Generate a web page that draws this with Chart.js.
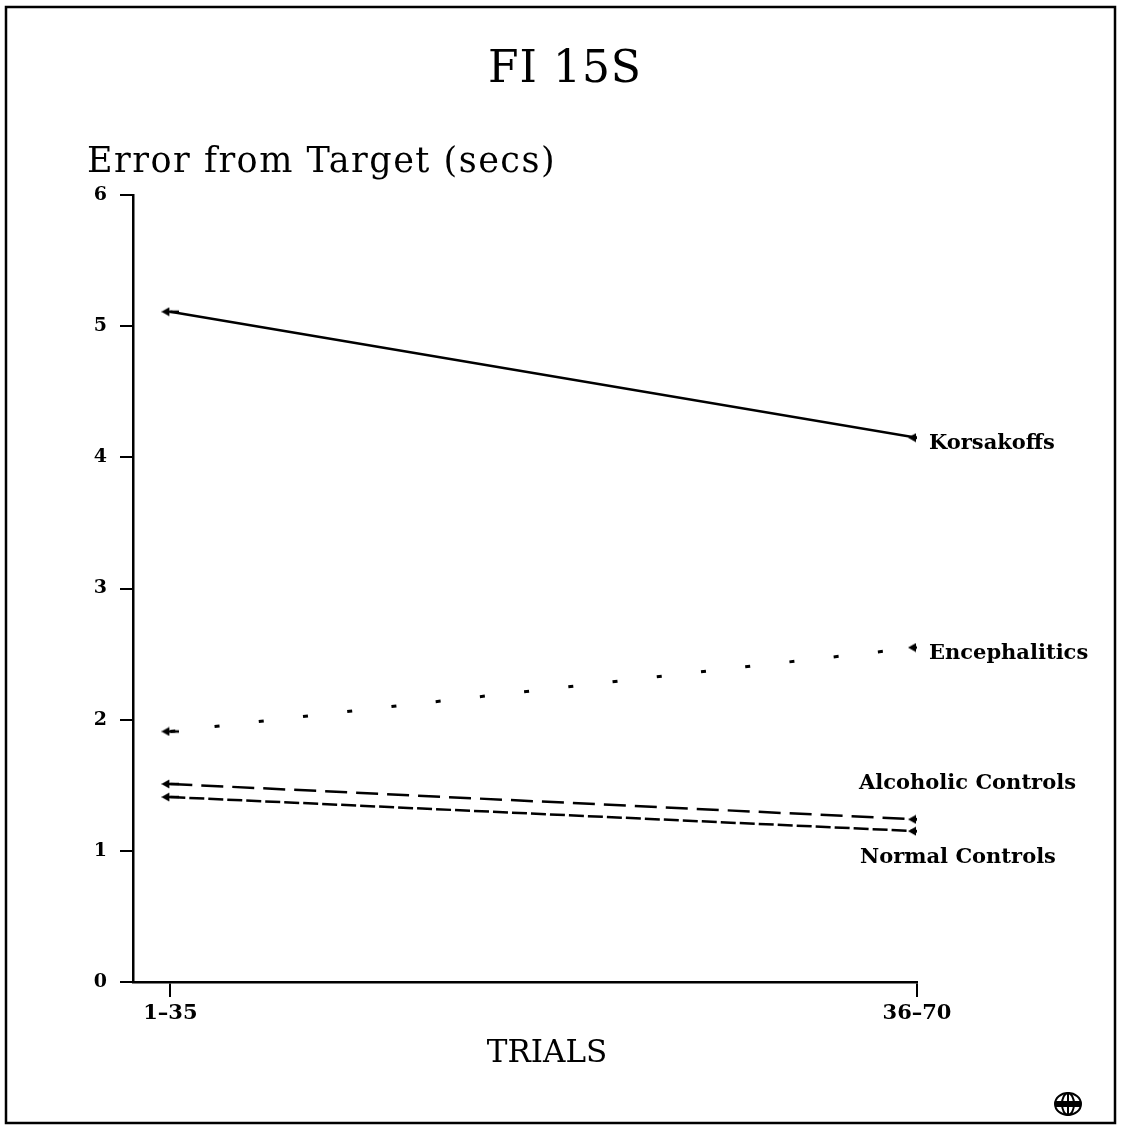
<!DOCTYPE html>
<html lang="en">
<head>
    <meta charset="utf-8">
    <title>FI 15S</title>
    <script type="text/javascript" src="https://cdn.jsdelivr.net/npm/chart.js@4.4.1/dist/chart.umd.min.js"></script>
    <style>
        html, body { margin: 0; padding: 0; background: #fff; }
        canvas { display: block; }
    </style>
</head>

<body>
<canvas id="chart-fi15" width="1123" height="1129"></canvas>

<script type="text/javascript">
    // data
    var trials = ["1\u201335", "36\u201370"];
    var yTicks = [0, 1, 2, 3, 4, 5, 6];
    var korsakoffs = [5.11, 4.15];
    var encephalitics = [1.91, 2.55];
    var alcoholicControls = [1.51, 1.24];
    var normalControls = [1.41, 1.15];

    var serif = "'DejaVu Serif', 'Liberation Serif', serif";

    // little left arrow used as point marker
    function arrowMarker() {
        var c = document.createElement("canvas");
        c.width = 18;
        c.height = 10;
        var g = c.getContext("2d");
        g.fillStyle = "#000";
        g.strokeStyle = "#000";
        g.lineWidth = 2.5;
        g.beginPath();
        g.moveTo(4, 5);
        g.lineTo(18, 5);
        g.stroke();
        g.beginPath();
        g.moveTo(0, 5);
        g.lineTo(8, 0.5);
        g.lineTo(8, 9.5);
        g.closePath();
        g.fill();
        return c;
    }
    var arrow = arrowMarker();

    function toPoints(values) {
        var pts = [];
        for (var i = 0; i < values.length; i++) {
            pts.push({x: i, y: values[i]});
        }
        return pts;
    }

    function series(name, values, width, dash, labelDx, labelDy) {
        return {
            label: name,
            data: toPoints(values),
            borderColor: "#000",
            borderWidth: width,
            borderDash: dash,
            fill: false,
            pointStyle: arrow,
            pointRadius: 9,
            labelDx: labelDx,
            labelDy: labelDy
        };
    }

    // titles, end labels, frame
    var decorations = {
        id: "decorations",
        afterDraw: function (chart) {
            var ctx = chart.ctx;
            var xs = chart.scales.x;
            var ys = chart.scales.y;
            ctx.save();
            ctx.fillStyle = "#000";

            ctx.textBaseline = "alphabetic";
            ctx.textAlign = "center";
            ctx.font = "44px " + serif;
            ctx.letterSpacing = "1px";
            ctx.fillText("FI 15S", 565, 82);

            ctx.textAlign = "left";
            ctx.font = "35px " + serif;
            ctx.letterSpacing = "1.5px";
            ctx.fillText("Error from Target (secs)", 87, 172);

            ctx.textAlign = "center";
            ctx.font = "31px " + serif;
            ctx.letterSpacing = "0px";
            ctx.fillText("TRIALS", 547, 1062);

            ctx.textAlign = "left";
            ctx.textBaseline = "middle";
            ctx.font = "bold 21px " + serif;
            chart.data.datasets.forEach(function (ds) {
                var last = ds.data[ds.data.length - 1];
                ctx.fillText(ds.label,
                    xs.getPixelForValue(last.x) + ds.labelDx,
                    ys.getPixelForValue(last.y) + ds.labelDy);
            });

            // page frame
            ctx.strokeStyle = "#000";
            ctx.lineWidth = 2.5;
            ctx.strokeRect(6, 7, 1109, 1116);

            // small globe logo
            ctx.lineWidth = 2;
            ctx.beginPath();
            ctx.ellipse(1068, 1104, 13, 11, 0, 0, Math.PI * 2);
            ctx.stroke();
            ctx.beginPath();
            ctx.ellipse(1068, 1104, 6, 11, 0, 0, Math.PI * 2);
            ctx.stroke();
            ctx.fillRect(1055, 1101, 26, 6);
            ctx.beginPath();
            ctx.moveTo(1068, 1093);
            ctx.lineTo(1068, 1115);
            ctx.stroke();
            ctx.restore();
        }
    };

    new Chart(document.getElementById("chart-fi15"), {
        type: "line",
        data: {
            datasets: [
                series("Korsakoffs", korsakoffs, 2.5, [], 12, 6),
                series("Encephalitics", encephalitics, 3, [5, 39.5], 12, 6),
                series("Alcoholic Controls", alcoholicControls, 2.5, [22, 9], -58, -36),
                series("Normal Controls", normalControls, 2.5, [15, 4], -57, 26)
            ]
        },
        options: {
            responsive: false,
            animation: false,
            layout: {
                padding: {top: 195, right: 206, left: 0, bottom: 0}
            },
            plugins: {
                legend: {display: false},
                title: {display: false},
                tooltip: {enabled: false}
            },
            scales: {
                x: {
                    type: "linear",
                    min: -0.05,
                    max: 1,
                    afterFit: function (scale) {
                        scale.height = 147;
                    },
                    afterBuildTicks: function (scale) {
                        scale.ticks = trials.map(function (t, i) {
                            return {value: i};
                        });
                    },
                    ticks: {
                        color: "#000",
                        padding: 4,
                        font: {family: serif, size: 21, weight: "bold"},
                        callback: function (value) {
                            return trials[value];
                        }
                    },
                    grid: {
                        drawOnChartArea: false,
                        color: "#000",
                        lineWidth: 2,
                        tickLength: 15
                    },
                    border: {color: "#000", width: 2.5}
                },
                y: {
                    min: yTicks[0],
                    max: yTicks[yTicks.length - 1],
                    afterFit: function (scale) {
                        scale.width = 133;
                    },
                    afterBuildTicks: function (scale) {
                        scale.ticks = yTicks.map(function (v) {
                            return {value: v};
                        });
                    },
                    ticks: {
                        color: "#000",
                        padding: 13,
                        font: {family: serif, size: 19, weight: "bold"}
                    },
                    grid: {
                        drawOnChartArea: false,
                        color: "#000",
                        lineWidth: 2,
                        tickLength: 13
                    },
                    border: {color: "#000", width: 2.5}
                }
            }
        },
        plugins: [decorations]
    });
</script>
</body>
</html>
